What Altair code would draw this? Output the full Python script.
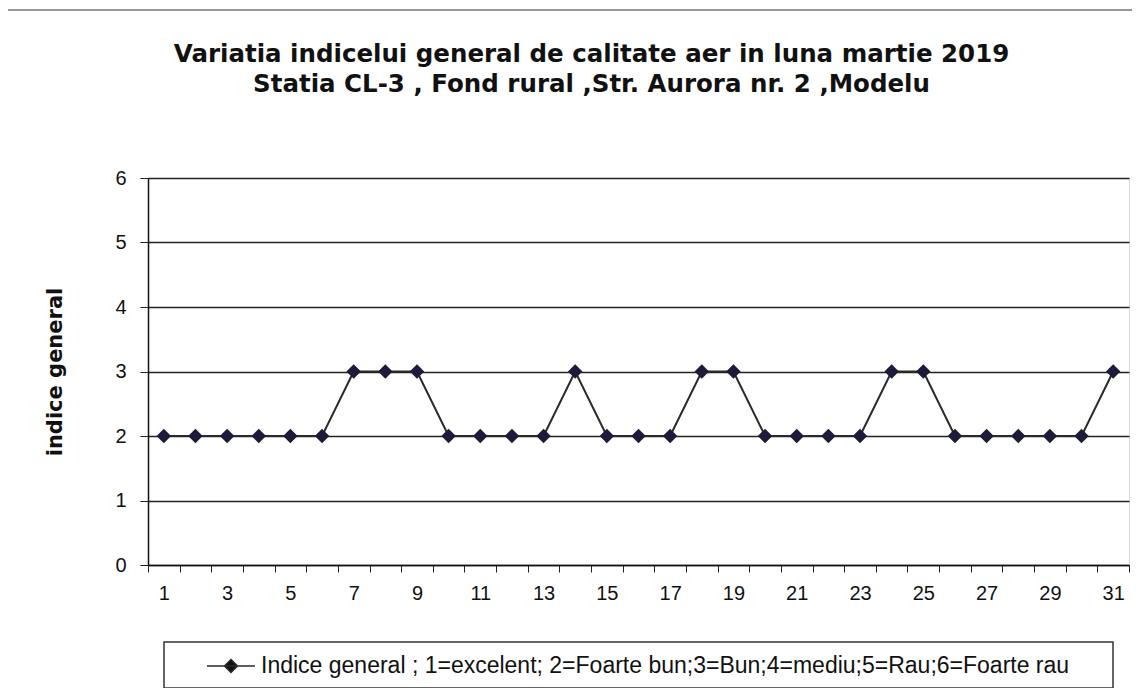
import altair as alt
import pandas as pd

days = list(range(1, 32))
values = [2, 2, 2, 2, 2, 2, 3, 3, 3, 2, 2, 2, 2, 3, 2, 2, 2, 3, 3, 2, 2, 2, 2, 3, 3, 2, 2, 2, 2, 2, 3]
series_label = "Indice  general ; 1=excelent; 2=Foarte bun;3=Bun;4=mediu;5=Rau;6=Foarte rau"
title_lines = [
    "Variatia indicelui general de calitate aer in luna martie 2019",
    "Statia CL-3 , Fond rural ,Str. Aurora nr. 2 ,Modelu",
]
y_ticks = [0, 1, 2, 3, 4, 5, 6]
y_title = "indice general"

FONT = "Liberation Sans"
TFONT = "DejaVu Sans"

df = pd.DataFrame({"day": days, "value": values, "series": series_label})

x_enc = alt.X(
    "day:O",
    bandPosition=0.5,
    scale=alt.Scale(type="band", paddingInner=0, paddingOuter=0),
    axis=alt.Axis(
        title=None,
        labelAngle=0,
        labelExpr="datum.value % 2 == 1 ? datum.label : ''",
        tickBand="extent",
        tickSize=7,
        tickColor="#222",
        domainColor="#111",
        domainWidth=1.5,
        labelFontSize=20,
        labelPadding=11,
        labelColor="#111",
        labelFont=FONT,
        grid=False,
    ),
)
y_enc = alt.Y(
    "value:Q",
    scale=alt.Scale(domain=[0, 6], nice=False),
    axis=alt.Axis(
        values=y_ticks,
        format="d",
        title=y_title,
        titleFontSize=21,
        titleFontWeight="bold",
        titleFont=TFONT,
        titleColor="#111",
        titlePadding=49,
        tickSize=8,
        tickColor="#222",
        domainColor="#111",
        domainWidth=1.5,
        labelFontSize=20,
        labelPadding=14,
        labelColor="#111",
        labelFont=FONT,
        grid=True,
        gridColor="#222",
        gridWidth=1.3,
    ),
)

base = alt.Chart(df)

line = base.mark_line(strokeWidth=2).encode(
    x=x_enc,
    y=y_enc,
    color=alt.Color(
        "series:N",
        scale=alt.Scale(range=["#2a2a2a"]),
        legend=alt.Legend(
            title=None,
            orient="none",
            legendX=58,
            legendY=463,
            symbolType="M-1,0H1M0,-0.27L0.27,0L0,0.27L-0.27,0Z",
            symbolSize=2304,
            symbolStrokeWidth=1.6,
            symbolStrokeColor="#111",
            symbolFillColor="#111",
            labelFontSize=23,
            labelFont=FONT,
            labelColor="#111",
            labelLimit=2000,
            labelOffset=5,
            padding=0,
        ),
    ),
)

points = base.mark_point(shape="diamond", filled=True, size=210, color="#1c1c3a", opacity=1).encode(
    x=x_enc,
    y="value:Q",
)

deco = alt.Data(values=[{"k": 1}])
frame = alt.Chart(deco).mark_rect(fill=None, stroke="#777", strokeWidth=1.5).encode(
    x=alt.value(-141), x2=alt.value(1010), y=alt.value(-168), y2=alt.value(540)
)
legend_box = alt.Chart(deco).mark_rect(fill=None, stroke="#333", strokeWidth=1.5).encode(
    x=alt.value(16), x2=alt.value(965), y=alt.value(464), y2=alt.value(510)
)

chart = (
    alt.layer(frame, legend_box, line, points)
    .properties(
        width=981,
        height=387,
        padding={"left": 140, "top": 170, "right": 3, "bottom": 123},
        autosize=alt.AutoSizeParams(type="none"),
        title=alt.TitleParams(
            text=title_lines,
            fontSize=24.5,
            fontWeight="bold",
            font=TFONT,
            color="#111",
            anchor="middle",
            dx=-47,
            offset=-88,
            lineHeight=30,
        ),
    )
    .configure_view(stroke="#888", strokeWidth=1.2)
    .configure(background="white")
)

chart.save("out.html", embed_options={"renderer": "svg", "actions": False})
